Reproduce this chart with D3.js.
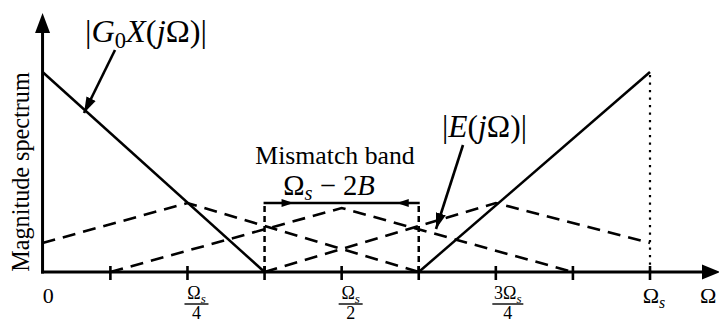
<!DOCTYPE html>
<html><head><meta charset="utf-8">
<script src="https://cdn.jsdelivr.net/npm/d3@7"></script>
<style>body{margin:0;background:#fff}svg{display:block}</style>
</head><body>
<svg id="c" width="719" height="324"></svg>
<script>
// ---- data (x in units of Ω_s, y relative to the peak of |G0X|) ----
const axisOrigin = 0.015;
const tickValues = [0.125, 0.25, 0.375, 0.5, 0.625, 0.75, 0.875, 1];
const labelValues = [0, 0.25, 0.5, 0.75, 1];
const labelNumerators = ["0", "Ω_s", "Ω_s", "3Ω_s", "Ω_s"];
const labelDenominators = [null, "4", "2", "4", null];
const signalLeft = [[0.015, 1], [0.375, 0]];
const signalRight = [[0.625, 0], [1, 1]];
const image1 = [[0.015, 0.145], [0.25, 0.345], [0.625, 0]];
const image2 = [[0.125, 0], [0.5, 0.32], [0.875, 0]];
const image3 = [[0.375, 0], [0.75, 0.345], [1, 0.145]];
const band = [0.375, 0.625];
const bandHeight = 0.345;

// pick an installed serif font
const ctx = document.createElement("canvas").getContext("2d");
function w(f){ ctx.font = "30px " + f; return ctx.measureText("Mismatch band Magnitude jΩ 0123").width; }
const candidates = ["Liberation Serif","DejaVu Serif","Times New Roman","Nimbus Roman","FreeSerif","Noto Serif"];
let serifFont = "serif";
for (const f of candidates) {
  if (w(`'${f}', monospace`) !== w("monospace") || w(`'${f}', sans-serif`) !== w("sans-serif")) { serifFont = `'${f}'`; break; }
}

const svg = d3.select("#c").attr("font-family", serifFont + ", serif");
const x = d3.scaleLinear().domain([0, 1]).range([33.3, 650]);
const y = d3.scaleLinear().domain([0, 1]).range([272, 72]);
const line = d3.line().x(d => x(d[0])).y(d => y(d[1]));
const X0 = x(axisOrigin), Y0 = y(0);

const defs = svg.append("defs");
defs.append("marker").attr("id","ah").attr("viewBox","0 0 10 10").attr("refX",10).attr("refY",5)
  .attr("markerWidth",16).attr("markerHeight",16).attr("markerUnits","userSpaceOnUse").attr("orient","auto")
  .append("path").attr("d","M0,1.8 L10,5 L0,8.2 Z").attr("fill","#000");

[image1, image2, image3].forEach(d => {
  svg.append("path").attr("d", line(d)).attr("fill","none").attr("stroke","#000")
    .attr("stroke-width",2.6).attr("stroke-dasharray","13,8");
});
[signalLeft, signalRight].forEach(d => {
  svg.append("path").attr("d", line(d)).attr("fill","none").attr("stroke","#000").attr("stroke-width",2.5);
});
svg.append("line").attr("x1",x(1)).attr("x2",x(1)).attr("y1",y(1)+3).attr("y2",Y0)
  .attr("stroke","#000").attr("stroke-width",2.2).attr("stroke-dasharray","2.2,5.3");

band.forEach(b => {
  svg.append("line").attr("x1",x(b)).attr("x2",x(b)).attr("y1",Y0).attr("y2",y(bandHeight))
    .attr("stroke","#000").attr("stroke-width",2.5).attr("stroke-dasharray","6,4");
});
svg.append("line").attr("x1",x(band[0])-1).attr("x2",x(band[1])+1).attr("y1",y(bandHeight)).attr("y2",y(bandHeight))
  .attr("stroke","#000").attr("stroke-width",2.6);
function head(px, py, dir) {
  svg.append("path").attr("d", `M${px},${py} l${-12*dir},-4 l0,8 Z`).attr("fill","#000");
}
head(x(band[0]) + 29, y(bandHeight), 1);
head(x(band[1]) - 22, y(bandHeight), -1);

svg.append("line").attr("x1",X0-1.5).attr("x2",705).attr("y1",Y0).attr("y2",Y0).attr("stroke","#000").attr("stroke-width",3);
svg.append("path").attr("d",`M720,${Y0} L702,${Y0-7.5} L702,${Y0+7.5} Z`).attr("fill","#000");
svg.append("line").attr("x1",X0).attr("x2",X0).attr("y1",Y0+1.5).attr("y2",30).attr("stroke","#000").attr("stroke-width",3);
svg.append("path").attr("d",`M${X0},13 L${X0-7.5},33 L${X0+7.5},33 Z`).attr("fill","#000");

svg.selectAll(".tk").data(tickValues).join("line").attr("class","tk")
  .attr("x1",d=>x(d)).attr("x2",d=>x(d)).attr("y1",Y0-6).attr("y2",Y0+8)
  .attr("stroke","#000").attr("stroke-width",2.6);

function mathText(sel, str, size) {
  const parts = str.split("_");
  sel.append("tspan").text(parts[0]);
  if (parts[1]) sel.append("tspan").attr("font-style","italic").attr("font-size", size*0.72).attr("dy", size*0.22).text(parts[1]);
}

labelValues.forEach((v, i) => {
  const num = labelNumerators[i], den = labelDenominators[i];
  if (!den) {
    const cx = x(v) + (i === 0 ? 15 : 4);
    const t = svg.append("text").attr("x", cx).attr("y", 303).attr("text-anchor","middle").attr("font-size",22);
    mathText(t, num, 22);
  } else {
    const cx = x(v) + (num.length > 3 ? 12 : 9);
    const t = svg.append("text").attr("x", cx).attr("y", 299).attr("text-anchor","middle").attr("font-size",18);
    mathText(t, num, 18);
    const wd = num.length > 3 ? 31 : 24;
    svg.append("line").attr("x1",cx-wd/2).attr("x2",cx+wd/2).attr("y1",304).attr("y2",304).attr("stroke","#000").attr("stroke-width",1.4);
    svg.append("text").attr("x", cx).attr("y", 319).attr("text-anchor","middle").attr("font-size",18).text(den);
  }
});
svg.append("text").attr("x",700).attr("y",303).attr("font-size",22).text("Ω");

function fit(t, width) {
  const fs = +t.attr("font-size");
  const wd = t.node().getBBox().width;
  const k = width / wd;
  t.attr("font-size", fs * k);
  t.selectAll("tspan").each(function() {
    const s = d3.select(this);
    if (s.attr("font-size")) s.attr("font-size", +s.attr("font-size") * k);
    if (s.attr("dy")) s.attr("dy", +s.attr("dy") * k);
  });
}

const yl = svg.append("text").attr("transform","translate(29,172) rotate(-90)").attr("text-anchor","middle")
  .attr("font-size",20).text("Magnitude spectrum");
fit(yl, 200);

const g = svg.append("text").attr("x",85).attr("y",42).attr("font-size",23);
g.append("tspan").text("|");
g.append("tspan").attr("font-style","italic").text("G");
g.append("tspan").attr("font-size",16).attr("dy",4).text("0");
g.append("tspan").attr("font-style","italic").attr("dy",-4).text("X");
g.append("tspan").text("(");
g.append("tspan").attr("font-style","italic").text("j");
g.append("tspan").text("Ω)|");
fit(g, 122);
svg.append("line").attr("x1",115).attr("y1",50).attr("x2",84).attr("y2",113).attr("stroke","#000").attr("stroke-width",2.6).attr("marker-end","url(#ah)");

const e = svg.append("text").attr("x",442).attr("y",137).attr("font-size",23);
e.append("tspan").text("|");
e.append("tspan").attr("font-style","italic").text("E");
e.append("tspan").text("(");
e.append("tspan").attr("font-style","italic").text("j");
e.append("tspan").text("Ω)|");
fit(e, 85);
svg.append("line").attr("x1",463).attr("y1",145).attr("x2",436).attr("y2",229).attr("stroke","#000").attr("stroke-width",2.6).attr("marker-end","url(#ah)");

const mb = svg.append("text").attr("x",335).attr("y",164).attr("text-anchor","middle").attr("font-size",21).text("Mismatch band");
fit(mb, 160);
const m = svg.append("text").attr("x",329).attr("y",195).attr("text-anchor","middle").attr("font-size",21);
m.append("tspan").text("Ω");
m.append("tspan").attr("font-style","italic").attr("font-size",15).attr("dy",4).text("s");
m.append("tspan").attr("dy",-4).text(" − 2");
m.append("tspan").attr("font-style","italic").text("B");
fit(m, 92);
</script>
</body></html>
